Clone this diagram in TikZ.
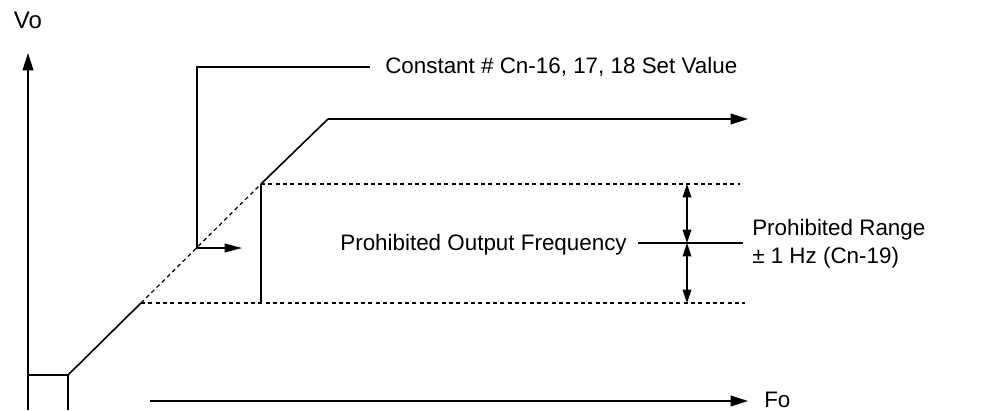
\documentclass[tikz,border=0pt]{standalone}
\usepackage{fontspec}
\setmainfont{Liberation Sans}
\usetikzlibrary{arrows.meta, positioning, calc}
\tikzset{
  axis/.style={-{Triangle[length=13pt,width=8pt]}, line width=1.2pt},
  curve/.style={line width=1.2pt},
  limit/.style={dash pattern=on 3pt off 2.5pt, line width=0.9pt},
  rangearrow/.style={{Triangle[length=10pt,width=6.5pt]}-{Triangle[length=10pt,width=6.5pt]}, line width=1pt},
  callout/.style={-{Triangle[length=13pt,width=6.5pt]}, line width=0.9pt},
  lbl/.style={font=\fontsize{16.8}{21}\selectfont, inner sep=0pt},
}

\begin{document}
\begin{tikzpicture}[x=0.75pt, y=-0.75pt]
  \useasboundingbox (0,0) rectangle (998,410);

  % --- axes ---
  \coordinate (origin) at (28,410);
  \draw[axis] (origin) -- (28,53) coordinate (vtip);
  \node[lbl, font=\fontsize{18}{21}\selectfont] (vo) at (28,20) {Vo};
  \coordinate (fstart) at (150,401);
  \draw[axis] (fstart) -- (748,401) coordinate (ftip);
  \node[lbl, anchor=west] (fo) at ([xshift=12pt, yshift=1pt]ftip) {Fo};

  % --- starting box ---
  \draw[curve] (28,375) -- (68,375) coordinate (start) -- (68,410);

  % --- V/f curve ---
  \coordinate (lowin) at (141,303);
  \coordinate (highin) at (261,184);
  \coordinate (knee) at (328,119);
  \draw[curve] (start) -- (lowin);
  \draw[limit] (lowin) -- (highin);
  \draw[curve] (highin) -- (knee);
  \draw[axis] (knee) -- (748,119) coordinate (vmax);

  % --- prohibited band ---
  \draw[limit] (lowin) -- (745,303) coordinate (lowend);
  \draw[limit] (highin) -- (740,184) coordinate (highend);
  \draw[curve] (highin) -- (highin |- lowin);

  \coordinate (mid) at (687,243);
  \draw[line width=1pt] (638,243) coordinate (midleft) -- (743,243) coordinate (midright);
  \draw[rangearrow] (mid) -- (mid |- highin);
  \draw[rangearrow] (mid) -- (mid |- lowin);

  \node[lbl, anchor=east] (pof) at (627,245) {Prohibited Output Frequency};
  \node[lbl, anchor=west, align=left] (range) at (752,244)
       {Prohibited Range\\± 1 Hz (Cn-19)};

  % --- set value callout ---
  \node[lbl, anchor=west] (setval) at (385,67) {Constant \# Cn-16, 17, 18 Set Value};
  \draw[callout] (setval.west) ++(-15,0) -| (197,248) -- (242,248);

\end{tikzpicture}
\end{document}
